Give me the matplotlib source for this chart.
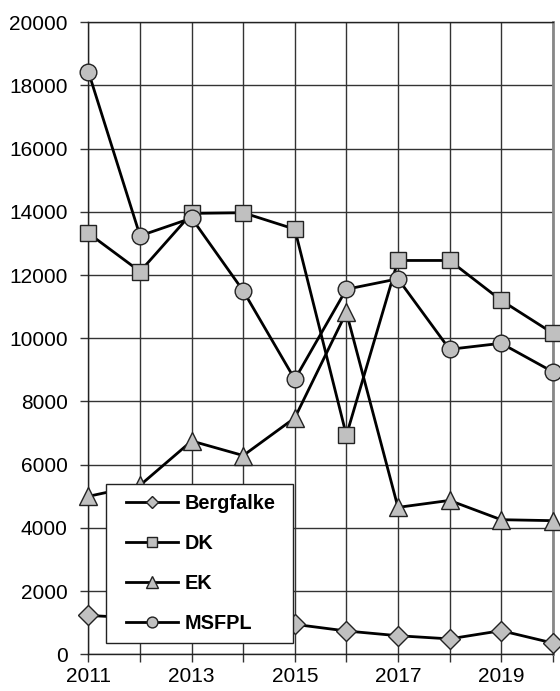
import matplotlib.pyplot as plt
import numpy as np
from matplotlib.legend_handler import HandlerLine2D

plt.rcParams['font.family'] = ['Liberation Sans', 'DejaVu Sans']

anos = np.arange(2011, 2021)
bergfalke = [1230, 1150, 1080, 1000, 950, 740, 590, 490, 750, 360]
dk = [13320, 12110, 13950, 13970, 13450, 6930, 12460, 12460, 11200, 10160]
ek = [5000, 5350, 6750, 6290, 7480, 10820, 4650, 4870, 4260, 4230]
msfpl = [18420, 13240, 13800, 11500, 8700, 11550, 11880, 9650, 9840, 8940]
etiquetas = [str(a) if a % 2 == 1 else "" for a in anos]


# linea de la leyenda un poco corrida a la derecha
class Corrido(HandlerLine2D):
    def create_artists(self, legend, orig_handle, xdescent, ydescent, width, height, fontsize, trans):
        s = 7.6
        return super().create_artists(legend, orig_handle, xdescent - s, ydescent, width - s,
                                      height, fontsize, trans)


fig = plt.figure(figsize=(5.6, 6.91), dpi=100)
ax = fig.add_axes([0.158, 0.053, 0.829, 0.915])

gris = "#c0c0c0"
estilo = dict(color="black", lw=2, markerfacecolor=gris, markeredgecolor="#222222",
              markeredgewidth=1, clip_on=False, zorder=3)
ax.plot(anos, bergfalke, marker="D", markersize=10, label="Bergfalke", **estilo)
ax.plot(anos, dk, marker="s", markersize=11, label="DK", **estilo)
ax.plot(anos, ek, marker="^", markersize=13, label="EK", **estilo)
ax.plot(anos, msfpl, marker="o", markersize=12, label="MSFPL", **estilo)

ax.set_xlim(2011, 2020)
ax.set_ylim(0, 20000)
ax.set_xticks(anos)
ax.set_xticklabels(etiquetas, fontsize=15)
ax.set_yticks(np.arange(0, 20001, 2000))
ax.tick_params(axis="y", labelsize=15, direction="out", length=6, width=1, color="#333333", pad=9)
ax.tick_params(axis="x", direction="out", length=6, width=1, color="#333333", pad=3)
ax.grid(True, color="#333333", lw=1)
ax.set_axisbelow(True)

for lado in ["top", "left", "bottom"]:
    ax.spines[lado].set_color("#222222")
    ax.spines[lado].set_linewidth(1)
ax.spines["right"].set_color("#888888")
ax.spines["right"].set_linewidth(2)

leg = ax.legend(loc="lower left", bbox_to_anchor=(0.0375, 0.018, 0.404, 0.251), mode="expand",
                prop={"weight": "bold", "size": 14.3}, handlelength=3.15, labelspacing=1.07,
                markerscale=0.65, fancybox=False, framealpha=1, borderaxespad=0,
                handletextpad=0.3, borderpad=0.49, handler_map={plt.Line2D: Corrido()})
leg.get_frame().set_edgecolor("#222222")
leg.get_frame().set_linewidth(1)
leg.set_zorder(5)

plt.savefig("out.png", dpi=100)
